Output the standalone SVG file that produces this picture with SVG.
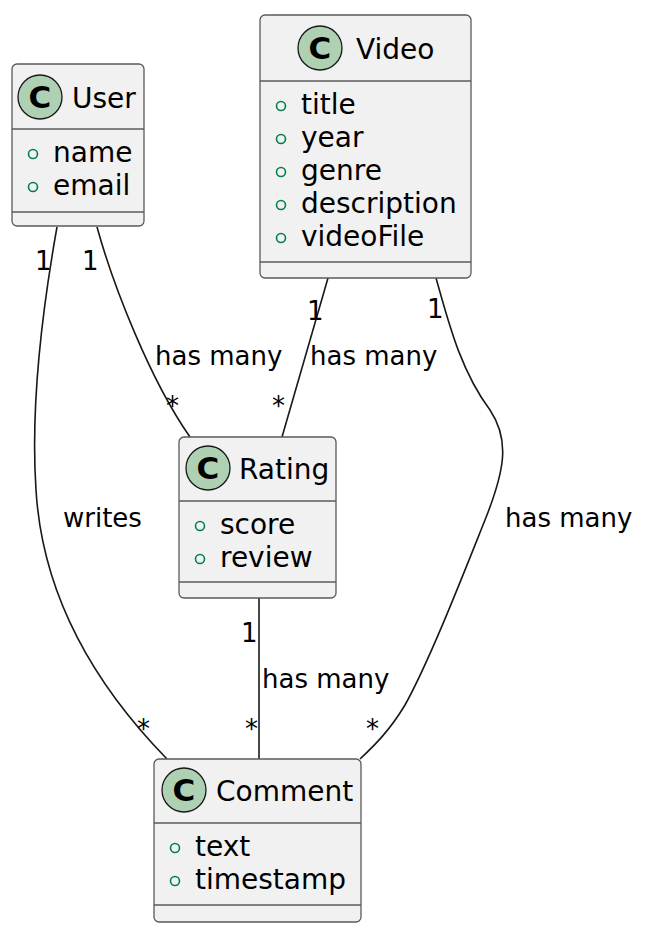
<svg xmlns="http://www.w3.org/2000/svg" width="650" height="944" viewBox="0 0 650 944">
<style>
.box{fill:#F1F1F1;stroke:#5a5a5a;stroke-width:1.3}
.div{stroke:#5a5a5a;stroke-width:1.3}
.ci{fill:#ADD1B2;stroke:#181818;stroke-width:1.3}
.cg{font-family:"DejaVu Sans",sans-serif;font-weight:bold;font-size:31px;fill:#000;text-anchor:middle}
.t{font-family:"DejaVu Sans",sans-serif;font-size:28px;fill:#000}
.ac{fill:none;stroke:#038048;stroke-width:1.6}
.lbl{font-family:"DejaVu Sans",sans-serif;font-size:26px;fill:#000}
.edge{fill:none;stroke:#181818;stroke-width:1.6}
</style>
<rect width="650" height="944" fill="#FFFFFF"/>
<g id="connectors">
<path class="edge" d="M57,227 C44,300 30,400 36,490 C42,590 90,680 167,759"/>
<path class="edge" d="M97,227 C113,285 150,380 190,437"/>
<path class="edge" d="M328,278 L282,437"/>
<path class="edge" d="M259,598 L259,759"/>
<path class="edge" d="M436,278 C448,320 460,370 490,410 C510,440 505,470 485,520 C465,570 430,660 405,705 C390,730 375,745 360,759"/>
<text class="lbl" x="35" y="270">1</text>
<text class="lbl" x="82" y="270">1</text>
<text class="lbl" x="155" y="365">has many</text>
<text class="lbl" x="166" y="415">*</text>
<text class="lbl" x="307" y="320">1</text>
<text class="lbl" x="310" y="365">has many</text>
<text class="lbl" x="272" y="415">*</text>
<text class="lbl" x="427" y="318">1</text>
<text class="lbl" x="505" y="527">has many</text>
<text class="lbl" x="366" y="738">*</text>
<text class="lbl" x="241" y="642">1</text>
<text class="lbl" x="262" y="688">has many</text>
<text class="lbl" x="245" y="738">*</text>
<text class="lbl" x="63" y="527">writes</text>
<text class="lbl" x="137" y="738">*</text>
</g>
<g id="User">
<rect class="box" x="12" y="64" width="132" height="162" rx="5"/>
<line class="div" x1="12" y1="129" x2="144" y2="129"/>
<line class="div" x1="12" y1="212" x2="144" y2="212"/>
<circle class="ci" cx="40" cy="97" r="22"/>
<text class="cg" x="40" y="108">C</text>
<text class="t" x="72" y="108">User</text>
<circle class="ac" cx="33" cy="154" r="4.5"/>
<text class="t" x="53" y="162">name</text>
<circle class="ac" cx="33" cy="187" r="4.5"/>
<text class="t" x="53" y="195">email</text>
</g>
<g id="Video">
<rect class="box" x="260" y="15" width="211" height="263" rx="5"/>
<line class="div" x1="260" y1="81" x2="471" y2="81"/>
<line class="div" x1="260" y1="262" x2="471" y2="262"/>
<circle class="ci" cx="320" cy="48" r="22"/>
<text class="cg" x="320" y="59">C</text>
<text class="t" x="356" y="59">Video</text>
<circle class="ac" cx="281" cy="106" r="4.5"/>
<text class="t" x="301" y="114">title</text>
<circle class="ac" cx="281" cy="139" r="4.5"/>
<text class="t" x="301" y="147">year</text>
<circle class="ac" cx="281" cy="172" r="4.5"/>
<text class="t" x="301" y="180">genre</text>
<circle class="ac" cx="281" cy="205" r="4.5"/>
<text class="t" x="301" y="213">description</text>
<circle class="ac" cx="281" cy="238" r="4.5"/>
<text class="t" x="301" y="246">videoFile</text>
</g>
<g id="Rating">
<rect class="box" x="179" y="437" width="157" height="161" rx="5"/>
<line class="div" x1="179" y1="501" x2="336" y2="501"/>
<line class="div" x1="179" y1="582" x2="336" y2="582"/>
<circle class="ci" cx="208" cy="468" r="22"/>
<text class="cg" x="208" y="479">C</text>
<text class="t" x="239" y="479">Rating</text>
<circle class="ac" cx="200" cy="526" r="4.5"/>
<text class="t" x="220" y="534">score</text>
<circle class="ac" cx="200" cy="559" r="4.5"/>
<text class="t" x="220" y="567">review</text>
</g>
<g id="Comment">
<rect class="box" x="154" y="759" width="207" height="163" rx="5"/>
<line class="div" x1="154" y1="823" x2="361" y2="823"/>
<line class="div" x1="154" y1="905" x2="361" y2="905"/>
<circle class="ci" cx="184" cy="790" r="22"/>
<text class="cg" x="184" y="801">C</text>
<text class="t" x="216" y="801">Comment</text>
<circle class="ac" cx="175" cy="848" r="4.5"/>
<text class="t" x="195" y="856">text</text>
<circle class="ac" cx="175" cy="881" r="4.5"/>
<text class="t" x="195" y="889">timestamp</text>
</g>
</svg>
